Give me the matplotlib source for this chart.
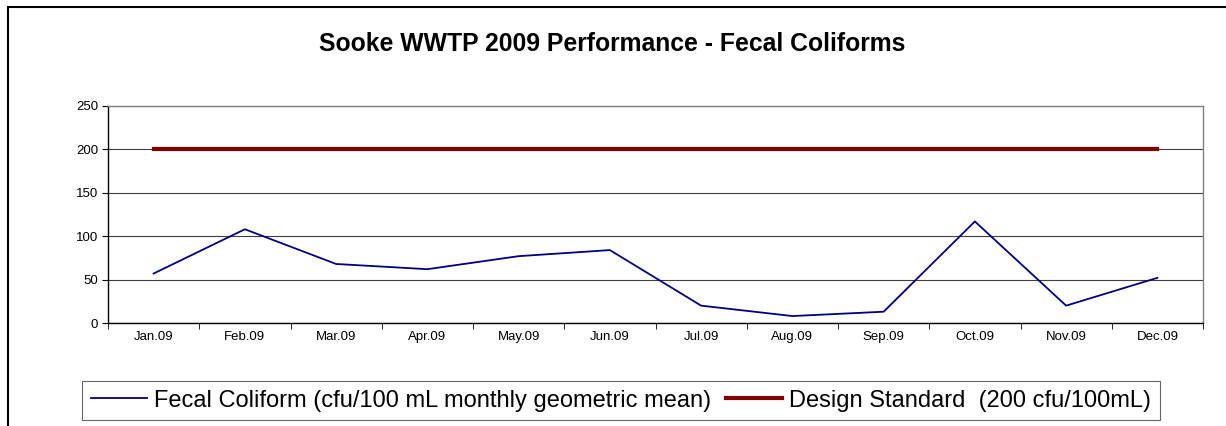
import numpy as np
import matplotlib.pyplot as plt
from matplotlib.patches import Rectangle

months = ['Jan.09', 'Feb.09', 'Mar.09', 'Apr.09', 'May.09', 'Jun.09',
          'Jul.09', 'Aug.09', 'Sep.09', 'Oct.09', 'Nov.09', 'Dec.09']
fecal = [57, 108, 68, 62, 77, 84, 20, 8, 13, 117, 20, 52]
standard = [200] * 12
yticks = [0, 50, 100, 150, 200, 250]

plt.rcParams['font.family'] = ['Liberation Sans', 'DejaVu Sans']

fig = plt.figure(figsize=(12.26, 4.26), dpi=100)
ax = fig.add_axes([108 / 1226, 103 / 426, 1095 / 1226, 217 / 426])

x = np.arange(len(months))
ax.plot(x, fecal, color='#000080', lw=1.3, label='Fecal Coliform (cfu/100 mL monthly geometric mean)', zorder=3)
ax.plot(x, standard, color='#800000', lw=3, label='Design Standard  (200 cfu/100mL)', zorder=4)

ax.set_xlim(-0.5, len(months) - 0.5)
ax.set_ylim(0, 250)
ax.set_yticks(yticks)
ax.tick_params(axis='y', labelsize=9.5, length=4, direction='out', pad=3)
ax.set_xticks(x)
ax.set_xticklabels(months, fontsize=9.5)
ax.tick_params(axis='x', which='major', length=0, pad=6)
ax.set_xticks(np.arange(-0.5, len(months)), minor=True)
ax.tick_params(axis='x', which='minor', length=4, direction='out')
ax.grid(axis='y', color='#404040', lw=0.8, zorder=1)

for side in ['top', 'right']:
    ax.spines[side].set_color('#808080')
    ax.spines[side].set_linewidth(1)
for side in ['left', 'bottom']:
    ax.spines[side].set_color('black')
    ax.spines[side].set_linewidth(1)

fig.text(612 / 1226, 1 - 44 / 426, 'Sooke WWTP 2009 Performance - Fecal Coliforms',
         ha='center', va='center', fontsize=17.8, fontweight='bold')

leg = ax.legend(loc='center', bbox_to_anchor=(621 / 1226, 1 - 400.5 / 426),
                bbox_transform=fig.transFigure, ncol=2, frameon=True, fancybox=False,
                edgecolor='#404040', handlelength=2.4, handletextpad=0.3,
                columnspacing=0.6, borderpad=0.35, prop={'size': 17})
leg.get_frame().set_linewidth(0.8)

# outer chart border
fig.patches.append(Rectangle((8 / 1226, -0.1), 1.2, 1 - 7 / 426 + 0.1, transform=fig.transFigure,
                             fill=False, edgecolor='black', lw=1.5, clip_on=False))

fig.savefig('out.png', dpi=100)
